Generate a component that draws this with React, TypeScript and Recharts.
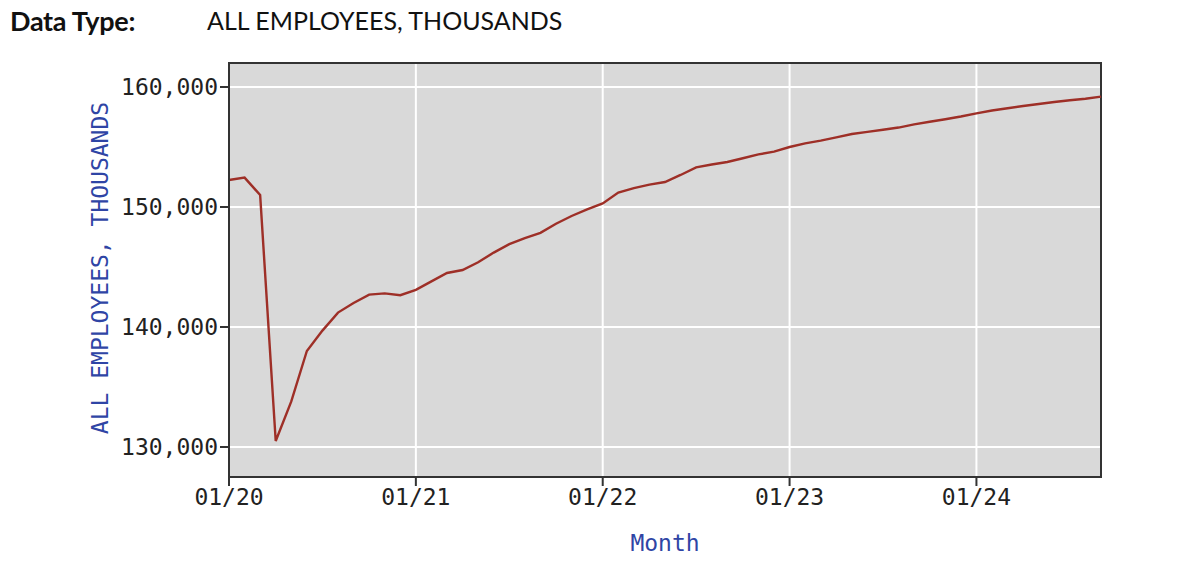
import { CartesianGrid, Label, Line, LineChart, ReferenceArea, XAxis, YAxis } from "recharts";

const years = ["20", "21", "22", "23", "24"];
const monthNums = ["01", "02", "03", "04", "05", "06", "07", "08", "09", "10", "11", "12"];

// All employees, thousands (monthly)
const values2020 = [152250, 152450, 151000, 130500, 133800, 138000, 139700, 141200, 142000, 142700, 142800, 142650];
const values2021 = [143100, 143800, 144500, 144750, 145400, 146200, 146900, 147400, 147850, 148600, 149250, 149800];
const values2022 = [150300, 151200, 151570, 151860, 152080, 152670, 153300, 153540, 153750, 154060, 154380, 154620];
const values2023 = [155000, 155300, 155530, 155800, 156080, 156260, 156440, 156620, 156880, 157100, 157310, 157540];
const values2024 = [157800, 158040, 158230, 158420, 158580, 158750, 158900, 159020, 159200];

const yTicks = [130000, 140000, 150000, 160000];
const xTickLabels = ["01/20", "01/21", "01/22", "01/23", "01/24"];

const values = [...values2020, ...values2021, ...values2022, ...values2023, ...values2024];
const months = years.flatMap((y) => monthNums.map((m) => `${m}/${y}`)).slice(0, values.length);
const data = values.map((v, i) => ({ idx: i, month: months[i], value: v }));
const xTicks = xTickLabels.map((l) => months.indexOf(l));

const Y_MIN = 127500;
const Y_MAX = 162000;

const monoFont = '"DejaVu Sans Mono", monospace';
const tickStyle = {
  fontSize: 23,
  fill: "#222",
  fontFamily: monoFont,
};
const labelColor = "#2f45a5";

export default function App() {
  return (
    <div
      style={{
        position: "absolute",
        left: 0,
        top: 0,
        width: 1180,
        height: 584,
        background: "#fff",
        overflow: "hidden",
      }}
    >
      <div
        style={{
          position: "absolute",
          left: 10,
          top: 4,
          fontFamily: "Lato, sans-serif",
          fontSize: 27,
          fontWeight: 700,
          color: "#111",
          letterSpacing: -0.3,
        }}
      >
        Data Type:
      </div>
      <div
        style={{
          position: "absolute",
          left: 207,
          top: 5,
          fontFamily: "Lato, sans-serif",
          fontSize: 25,
          color: "#111",
        }}
      >
        ALL EMPLOYEES, THOUSANDS
      </div>
      <div style={{ position: "absolute", left: 0, top: 0 }}>
        <LineChart
          width={1180}
          height={584}
          data={data}
          margin={{ top: 63, right: 79, bottom: 0, left: 0 }}
        >
          <CartesianGrid
            fill="#d9d9d9"
            stroke="#ffffff"
            strokeWidth={2}
            horizontalValues={yTicks}
            verticalValues={xTicks}
          />
          <XAxis
            dataKey="idx"
            type="number"
            domain={[0, values.length - 1]}
            ticks={xTicks}
            tickFormatter={(v: number) => months[v]}
            tick={tickStyle}
            tickSize={9}
            tickMargin={3}
            tickLine={{ stroke: "#333", strokeWidth: 2 }}
            axisLine={{ stroke: "#333", strokeWidth: 2 }}
            height={107}
            interval={0}
          >
            <Label
              content={({ viewBox }: any) => (
                <text
                  x={viewBox.x + viewBox.width / 2}
                  y={viewBox.y + 74}
                  textAnchor="middle"
                  fill={labelColor}
                  fontSize={23}
                  fontFamily={monoFont}
                >
                  Month
                </text>
              )}
            />
          </XAxis>
          <YAxis
            type="number"
            domain={[Y_MIN, Y_MAX]}
            ticks={yTicks}
            tickFormatter={(v: number) => v.toLocaleString("en-US")}
            tick={tickStyle}
            tickSize={9}
            tickMargin={2}
            tickLine={{ stroke: "#333", strokeWidth: 2 }}
            axisLine={{ stroke: "#333", strokeWidth: 2 }}
            width={229}
            allowDataOverflow
          >
            <Label
              content={({ viewBox }: any) => {
                const cx = viewBox.x + 100;
                const cy = viewBox.y + viewBox.height / 2 - 2;
                return (
                  <text
                    x={cx}
                    y={cy}
                    transform={`rotate(-90 ${cx} ${cy})`}
                    textAnchor="middle"
                    dominantBaseline="central"
                    fill={labelColor}
                    fontSize={23}
                    fontFamily={monoFont}
                  >
                    ALL EMPLOYEES, THOUSANDS
                  </text>
                );
              }}
            />
          </YAxis>
          <ReferenceArea
            x1={0}
            x2={values.length - 1}
            y1={Y_MIN}
            y2={Y_MAX}
            fill="none"
            stroke="#333"
            strokeWidth={2}
          />
          <Line
            type="linear"
            dataKey="value"
            stroke="#9e2f27"
            strokeWidth={2.4}
            dot={false}
            isAnimationActive={false}
          />
        </LineChart>
      </div>
    </div>
  );
}
